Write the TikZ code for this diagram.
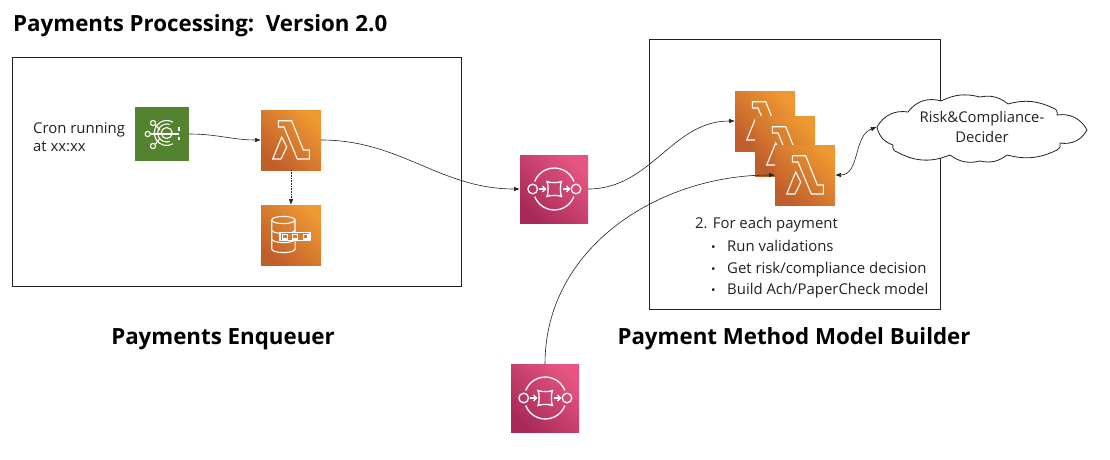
\documentclass[tikz,border=0pt]{standalone}
\usepackage{fontspec}
\setmainfont{Open Sans}
\usetikzlibrary{arrows.meta}
\definecolor{inkline}{HTML}{222222}
\tikzset{
    frame/.style={draw=inkline,line width=0.9pt},
    flow/.style={draw=inkline,line width=0.6pt,-{Latex[length=6pt,width=4.5pt]}},
    glyph/.style={draw=white,line width=1.1pt},
    iconbox/.style={anchor=north west,inner sep=0pt,outer sep=0pt},
    orangebox/.style={iconbox,minimum size=60pt,left color={rgb,255:red,192;green,94;blue,43},
        right color={rgb,255:red,238;green,152;blue,50},shading angle=135},
    pinkbox/.style={iconbox,minimum size=68pt,left color={rgb,255:red,168;green,42;blue,88},
        right color={rgb,255:red,230;green,85;blue,130},shading angle=135},
    greenbox/.style={iconbox,minimum size=54pt,fill={rgb,255:red,84;green,131;blue,47}},
    heading/.style={anchor=center,font=\fontsize{22.3}{26}\selectfont\bfseries},
    note/.style={anchor=west,align=left,inner sep=0pt,font=\fontsize{14.9}{17.5}\selectfont,text=inkline},
    lambdaicon/.pic={
        \draw[glyph] (17.3,10.7) -- (30.7,10.7) -- (42.3,40) -- (48.3,40) -- (48.3,49) -- (36.3,49) -- (23,17) -- (17.3,17) -- cycle;
        \draw[glyph] (11.7,49) -- (20.7,27) -- (25.7,37) -- (20,49) -- cycle;
    },
    storeicon/.pic={
        \draw[glyph] (10.7,15) -- (10.7,44) arc[start angle=180,end angle=0,x radius=11.7,y radius=3.6] -- (34,15);
        \draw[glyph] (22.3,15) ellipse[x radius=11.7,y radius=3.6];
        \draw[glyph] (10.7,25) arc[start angle=180,end angle=0,x radius=11.7,y radius=3.6];
        \draw[glyph] (10.7,34) arc[start angle=180,end angle=0,x radius=11.7,y radius=3.6];
        \draw[glyph,fill={rgb,255:red,214;green,120;blue,45}] (19,27.7) rectangle (49,35.7);
        \foreach \x in {24,34,44.7}
            \draw[glyph] (\x-2.3,29.4) rectangle (\x+2.3,34);
    },
    queueicon/.pic={
        \draw[glyph,line width=1.3pt] (34.3,34) ++(-21:21) arc[start angle=-21,end angle=-159,radius=21];
        \draw[glyph,line width=1.3pt] (34.3,34) ++(21:21) arc[start angle=21,end angle=159,radius=21];
        \draw[glyph,line width=1.3pt] (12.7,34) circle[radius=4.8];
        \draw[glyph,line width=1.3pt] (56,34) circle[radius=4.8];
        \draw[glyph,line width=1.3pt] (27,26.5) .. controls (30,28) and (38.5,28) .. (41.5,26.5)
            .. controls (40,29.5) and (40,38.5) .. (41.5,41.5)
            .. controls (38.5,40) and (30,40) .. (27,41.5)
            .. controls (28.5,38.5) and (28.5,29.5) .. (27,26.5) -- cycle;
        \foreach \x in {19,43} {
            \draw[glyph,line width=1.3pt] (\x,34) -- (\x+6.5,34);
            \draw[glyph,line width=1.3pt] (\x+3.5,31) -- (\x+6.5,34) -- (\x+3.5,37);
        }
    },
    cronicon/.pic={
        \draw[glyph] (31.7,26) circle[radius=5.5];
        \draw[glyph] (31.7,26) ++(70:9) arc[start angle=70,end angle=290,radius=9];
        \draw[glyph] (31.7,26) ++(60:12.5) arc[start angle=60,end angle=300,radius=12.5];
        \draw[glyph] (15.5,27) -- (44,27);
        \draw[glyph] (20.5,18) -- (25,23);
        \draw[glyph] (20.5,37) -- (25,31);
        \draw[glyph] (18,16) circle[radius=2.6];
        \draw[glyph] (12.7,27) circle[radius=2.6];
        \draw[glyph] (18,39) circle[radius=2.6];
        \draw[glyph] (44,20) -- (44,24);
        \draw[glyph] (44,30) -- (44,33);
    },
}
\begin{document}
\begin{tikzpicture}[x=1pt,y=-1pt]
    \useasboundingbox[fill=white] (0,0) rectangle (1110,460);
    %% title and frames
    \node[heading,anchor=west,inner sep=0pt] (titleline) at (13,26) {Payments Processing:\ \ Version 2.0};
    \draw[frame] (12,57) rectangle (461,286);
    \draw[frame] (649,39) rectangle (940,309);
    \node[heading] (enqueuer) at (223,339) {Payments Enqueuer};
    \node[heading] (builder) at (794,339) {Payment Method Model Builder};
    %% left icons
    \node[note] (cronnote) at (33,137) {Cron running\\at xx:xx};
    \node[greenbox] (cronbox) at (135,107) {};
    \pic at (cronbox.north west) {cronicon};
    \node[orangebox] (lambdamain) at (261,110) {};
    \pic at (lambdamain.north west) {lambdaicon};
    \node[orangebox] (storebox) at (261,205) {};
    \pic at (storebox.north west) {storeicon};
    %% queues
    \node[pinkbox] (queuemain) at (520,155) {};
    \pic at (queuemain.north west) {queueicon};
    \node[pinkbox] (queuelow) at (511,364) {};
    \pic at (queuelow.north west) {queueicon};
    %% lambda stack
    \foreach \n/\x/\y in {a/735/91,b/755/116,c/775/145} {
        \node[orangebox] (stack\n) at (\x,\y) {};
        \pic at (stack\n.north west) {lambdaicon};
    }
    %% cloud
    \draw[draw=inkline,line width=0.8pt,fill=white] (877,127) to[bend left=35] (908,112)
        to[bend left=35] (941,101) to[bend left=20] (980,97) to[bend left=25] (1008,104)
        to[bend left=20] (1053,108) to[bend left=50] (1057,115) to[bend left=35] (1087,130)
        to[bend left=35] (1060,143) to[bend left=50] (1057,150) to[bend left=20] (1007,155)
        to[bend left=25] (980,161) to[bend left=25] (950,155) to[bend left=25] (897,152)
        to[bend left=50] (893,145) to[bend left=30] cycle;
    \node[minimum width=210pt,minimum height=62pt,inner sep=0pt,align=center,text=inkline,
        font=\fontsize{14.8}{20}\selectfont] (decider) at (982,127) {Risk\&Compliance-\\Decider};
    %% steps
    \node[note] (stepline) at (695,225) {2. For each payment};
    \foreach \n/\y/\t in {a/247/Run validations,b/269/Get risk\slash compliance decision,c/290/Build Ach\slash PaperCheck model} {
        \node[note,text height=11pt,text depth=3pt] (bullet\n) at (711,\y) {\fontsize{12}{12}\selectfont •};
        \node[note,text height=11pt,text depth=3pt] (item\n) at (727,\y) {\t};
    }
    %% connectors
    \draw[flow] (cronbox.east) to[out=0,in=180] (lambdamain.west);
    \draw[flow,densely dotted] (lambdamain.south) -- (storebox.north);
    \draw[flow] (lambdamain.east) to[out=0,in=180] (queuemain.west);
    \draw[flow] (queuemain.east) to[out=0,in=180] (stacka.west);
    \draw[flow] (queuelow.north) to[out=90,in=180] (stackc.west);
    \draw[flow,{Latex[length=6pt,width=4.5pt]}-{Latex[length=6pt,width=4.5pt]}] (stackc.east) to[out=0,in=200] (decider.west);
\end{tikzpicture}
\end{document}
